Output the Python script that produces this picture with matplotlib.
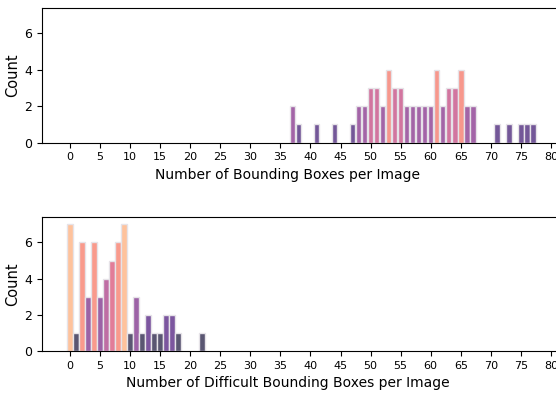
import numpy as np
import matplotlib
matplotlib.use("Agg")
import matplotlib.pyplot as plt
from matplotlib.colors import Normalize, to_rgba

# boxes per image -> number of images
boxes_x = [37, 38, 41, 44, 47, 48, 49, 50, 51, 52, 53, 54, 55, 56, 57, 58,
           59, 60, 61, 62, 63, 64, 65, 66, 67, 71, 73, 75, 76, 77]
boxes_count = [2, 1, 1, 1, 1, 2, 2, 3, 3, 2, 4, 3, 3, 2, 2, 2,
               2, 2, 4, 2, 3, 3, 4, 2, 2, 1, 1, 1, 1, 1]

# difficult boxes per image -> number of images
diff_x = [0, 1, 2, 3, 4, 5, 6, 7, 8, 9, 10, 11, 12, 13, 14, 15, 16, 17, 18, 22]
diff_count = [7, 1, 6, 3, 6, 3, 4, 5, 6, 7, 1, 3, 1, 2, 1, 1, 2, 2, 1, 1]

xticks = list(range(0, 81, 5))

cmap = plt.get_cmap("magma")


def bar_colors(counts, norm):
    return [to_rgba(cmap(norm(c)), 0.7) for c in counts]


fig = plt.figure(figsize=(5.56, 3.94), dpi=100)
ax1 = fig.add_axes([0.0755, 0.638, 0.937, 0.342])
ax2 = fig.add_axes([0.0755, 0.109, 0.937, 0.340])

panels = [
    (ax1, boxes_x, boxes_count, Normalize(-0.18, 5.88),
     "Number of Bounding Boxes per Image"),
    (ax2, diff_x, diff_count, Normalize(0.17, 8.5),
     "Number of Difficult Bounding Boxes per Image"),
]

for ax, xs, counts, norm, label in panels:
    ax.bar(xs, counts, width=0.92, color=bar_colors(counts, norm),
           edgecolor="#e6e3e8", linewidth=1.0)
    ax.set_xlim(-4.66, 82)
    ax.set_ylim(0, 7.4)
    ax.set_xticks(xticks)
    ax.set_yticks([0, 2, 4, 6])
    ax.tick_params(axis="x", labelsize=8)
    ax.tick_params(axis="y", labelsize=9)
    ax.set_xlabel(label, fontsize=10)
    ax.set_ylabel("Count", fontsize=10.5)
    ax.xaxis.set_label_coords(0.472, -0.185)
    ax.yaxis.set_label_coords(-0.042, 0.5)

plt.savefig("out.png", dpi=100)
